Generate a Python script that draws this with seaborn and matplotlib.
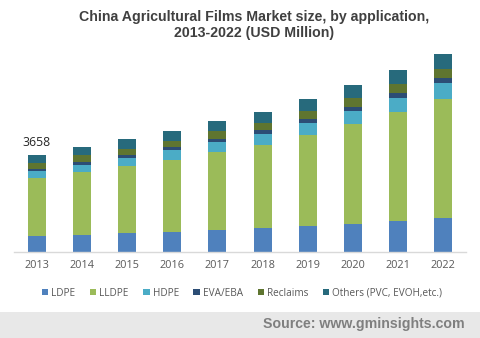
import matplotlib
matplotlib.use("Agg")
import matplotlib.pyplot as plt
from matplotlib.patches import Patch, Rectangle
import numpy as np
import pandas as pd
import seaborn as sns

years = ["2013", "2014", "2015", "2016", "2017", "2018", "2019", "2020", "2021", "2022"]
ldpe = [594, 632, 707, 745, 821, 889, 965, 1040, 1154, 1267]
lldpe = [2194, 2383, 2535, 2724, 2951, 3140, 3443, 3783, 4124, 4502]
hdpe = [265, 265, 303, 378, 378, 416, 454, 492, 530, 605]
eva_eba = [76, 113, 113, 113, 113, 164, 151, 151, 189, 189]
reclaims = [227, 240, 227, 227, 277, 252, 303, 340, 340, 340]
others = [303, 328, 378, 378, 378, 416, 454, 492, 530, 567]
segments = ["LDPE", "LLDPE", "HDPE", "EVA/EBA", "Reclaims", "Others (PVC, EVOH,etc.)"]
colors = ["#4f81bd", "#9bbb59", "#4bacc6", "#2c4d75", "#5f7530", "#276a7c"]
label_year = "2013"
label_text = "3658"

sns.set_theme(style="white")
plt.rcParams["font.family"] = ["Open Sans", "DejaVu Sans"]

fig = plt.figure(figsize=(4.8, 3.38), dpi=100)
W, H = 480, 338
ax = fig.add_axes([14 / W, (H - 251.5) / H, 452 / W, (251.5 - 40) / H])

series = [ldpe, lldpe, hdpe, eva_eba, reclaims, others]
bottom = np.zeros(len(years))
for name, vals, col in zip(segments, series, colors):
    df = pd.DataFrame({"year": years, "value": vals})
    sns.barplot(data=df, x="year", y="value", color=col, saturation=1,
                width=0.4, bottom=bottom, ax=ax, linewidth=0)
    bottom = bottom + np.array(vals)

ax.set_xlim(-0.5, len(years) - 0.5)
ax.set_ylim(0, 8000)
ax.set_xlabel("")
ax.set_ylabel("")
ax.set_yticks([])
for s in ["top", "right", "left"]:
    ax.spines[s].set_visible(False)
ax.spines["bottom"].set_color("#d9d9d9")
ax.spines["bottom"].set_linewidth(1)
ax.tick_params(axis="x", length=0, pad=6, labelsize=7.8, labelcolor="#595959")

# total label above the first bar
i = years.index(label_year)
ax.text(i, bottom[i] + 200, label_text, ha="center", va="bottom",
        fontsize=8.8, color="#262626")

fig.text(254 / W, 1 - 17 / H,
         "China Agricultural Films Market size, by application,",
         ha="center", va="center", fontsize=10.2, fontweight="bold",
         color="#404040", family=["Liberation Sans"])
fig.text(254 / W, 1 - 33 / H, "2013-2022 (USD Million)",
         ha="center", va="center", fontsize=10.2, fontweight="bold",
         color="#404040", family=["Liberation Sans"])

handles = [Patch(facecolor=c, edgecolor="none") for c in colors]
fig.legend(handles, segments, loc="center", bbox_to_anchor=(242 / W, 1 - 293 / H),
           ncol=6, frameon=False, fontsize=7.2, handlelength=0.65,
           handleheight=0.65, handletextpad=0.3, columnspacing=1.45,
           labelcolor="#595959")

# footer band with source
fig.patches.append(Rectangle((0, 0), 1, (H - 312) / H, transform=fig.transFigure,
                             facecolor="#e8e8e8", edgecolor="none", zorder=0))
fig.text(465 / W, 1 - 324 / H, "Source: www.gminsights.com", ha="right", va="center",
         fontsize=10.2, fontweight="bold", color="#7f7f7f", family=["Liberation Sans"])

fig.savefig("out.png", dpi=100)
